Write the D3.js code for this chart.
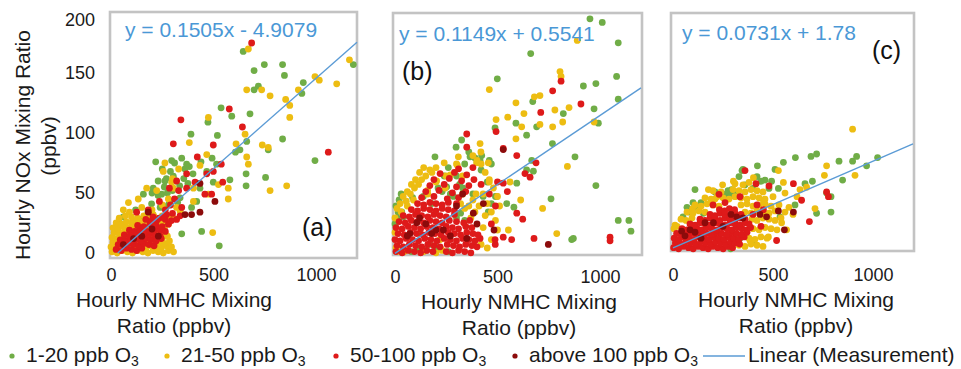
<!DOCTYPE html>
<html>
<head>
<meta charset="utf-8">
<script src="https://cdn.jsdelivr.net/npm/d3@7"></script>
<style>
  html, body { margin: 0; padding: 0; background: #fff; }
  svg { display: block; font-family: "Liberation Sans", Arial, sans-serif; }
</style>
</head>
<body>
<div id="chart"></div>
<script>
// O3 bins (legend order = drawing order)
const seriesNames = ['1-20 ppb O', '21-50 ppb O', '50-100 ppb O', 'above 100 ppb O'];
const seriesColors = ['#70AD47', '#EDBD12', '#DE1A1A', '#8C0B0B'];

const xTicks = [0, 500, 1000];
const yTicks = [0, 50, 100, 150, 200];

const panelTags = ['(a)', '(b)', '(c)'];
const slopes = [0.1505, 0.1149, 0.0731];
const intercepts = [-4.9079, 0.5541, 1.78];
const fitStart = [33, 0, 0];
const equations = ['y = 0.1505x - 4.9079', 'y = 0.1149x + 0.5541', 'y = 0.0731x + 1.78'];

// panel (a)  [NMHC, NOx]
const aGreen = [[645,168],[748,157],[837,157],[846,148],[698,152],[719,139],[698,136],[938,142],[931,133],[1182,157],[537,121],[589,114],[678,116],[473,109],[390,99],[519,98],[837,95],[662,93],[607,84],[629,86],[767,86],[995,77],[218,76],[296,77],[345,79],[382,72],[439,76],[493,79],[515,74],[659,66],[659,56],[754,63],[580,61],[499,59],[434,54],[400,66],[361,70],[304,64],[263,60],[206,54],[158,49],[247,49],[288,43],[337,46],[442,18],[528,6],[345,16],[198,41],[393,38],[418,43],[467,68],[369,74],
  [20,8],[40,25],[60,30],[80,4],[150,28],[180,35],[210,30],[230,48],[260,55],[280,40],[300,52],[315,60],[335,56],[250,70],[270,62],[290,68],[310,75],[230,60],[200,50],[120,36],[355,62],[375,58],[325,42],[275,50],[240,38]];
const aYellow = [[670,170],[1163,161],[1101,141],[1016,144],[995,147],[914,136],[735,136],[662,136],[776,131],[852,128],[872,123],[872,113],[475,113],[382,92],[467,82],[610,91],[654,99],[738,90],[767,88],[662,80],[670,74],[857,56],[776,52],[572,54],[572,45],[496,17],[475,49],[402,54],[255,68],[263,75],[296,59],[85,42],[133,45],[174,54],[223,52],[304,54],[434,73],[524,57],[402,43],[337,35],[109,27],[206,32],
  [5,1],[30,0],[55,2],[80,1],[105,0],[130,2],[155,1],[180,0],[205,2],[230,1],[255,0],[280,2],[305,1],
  [0,5],[20,4],[45,6],[70,5],[95,4],[120,6],[145,5],[170,4],[195,6],[220,5],[245,4],[270,6],[295,5],
  [10,9],[35,8],[60,10],[85,9],[110,8],[135,10],[160,9],[185,8],[210,10],[235,9],[260,8],[285,10],
  [5,13],[25,12],[50,14],[75,13],[100,12],[125,14],[150,13],[175,12],[200,14],[225,13],[250,12],[275,14],
  [15,17],[40,16],[65,18],[90,17],[115,16],[140,18],[165,17],[190,16],[215,18],[240,17],[265,16],
  [10,21],[35,20],[60,22],[85,21],[110,20],[135,22],[160,21],[185,20],[210,22],[235,21],[260,20],
  [25,25],[50,24],[75,26],[100,25],[125,24],[150,26],[175,25],[200,24],[225,26],[250,25],[280,24],
  [40,29],[70,31],[100,30],[130,29],[160,31],[190,30],[220,29],[250,31],[280,30],[305,29],
  [150,38],[200,36],[250,40],[280,45],[320,38],[90,34],[60,36],[330,70],[300,62]];
const aRed = [[686,175],[577,120],[341,111],[304,91],[641,105],[1060,84],[421,80],[499,90],[538,74],[499,68],[467,66],[545,59],[369,66],[410,59],[458,49],[491,49],[369,54],[320,60],[285,54],[236,43],[182,36],[125,34],[337,31],[271,32],[223,27],
  [25,3],[50,2],[75,4],[100,3],[125,2],[150,4],
  [35,7],[60,6],[85,8],[110,7],[135,6],[160,8],[185,7],[210,6],
  [45,11],[70,10],[95,12],[120,11],[145,10],[170,12],[195,11],[220,10],[245,12],
  [65,15],[90,14],[115,16],[140,15],[165,14],[190,16],[215,15],[240,14],
  [90,19],[115,18],[140,20],[165,19],[190,18],[215,20],[240,19],[265,18],
  [130,23],[160,22],[190,24],[220,23],[250,22],[280,24],
  [170,28],[200,27],[235,29],[265,28],[295,27],
  [265,36],[290,40],[300,33],[310,45],[320,28],[330,52],[345,38],[205,30],[255,30]];
const aDarkRed = [[434,58],[507,43],[434,34],[393,32],[361,32],[182,34],[150,14],[231,14],[60,7],[110,12],[200,20]];

// panel (b)
const bGreen = [[951,196],[1011,193],[1089,176],[662,167],[499,146],[919,140],[980,142],[1081,148],[1089,129],[971,121],[992,109],[821,117],[672,127],[590,109],[691,106],[642,99],[488,105],[768,92],[667,78],[878,81],[980,57],[761,46],[195,81],[298,89],[325,95],[423,82],[460,78],[642,70],[675,69],[594,59],[1089,28],[1141,28],[1151,19],[862,12],[86,47],[138,48],[580,39],[545,42],[496,48],[415,78],[366,81],[252,56],[285,48],[33,35],[41,31],[203,6],[122,17],[870,13],
  [0,25],[10,30],[15,35],[5,40],[20,45],[30,50],[80,2],[110,5],[150,3],[170,8],[220,5],[260,2],[300,65],[340,75],[360,85],[390,80],[420,70],[450,60],[470,75],[210,55],[180,42],[240,65],[270,50],[330,55],[380,50],[430,48],[455,35],[470,42],[490,48],[300,30],[320,34],[340,28],[230,52],[315,58],[260,72]];
const bYellow = [[889,178],[460,137],[810,148],[707,132],[680,131],[590,126],[629,117],[550,114],[493,112],[618,106],[707,108],[780,120],[849,122],[769,106],[818,110],[971,110],[590,96],[415,92],[419,85],[455,76],[561,60],[613,45],[720,38],[841,73],[304,74],[249,65],[203,61],[159,53],[309,81],[789,17],[553,20],[460,60],[398,76],[805,152],
  [0,30],[10,38],[25,42],[40,48],[60,52],[80,58],[100,62],[120,68],[140,72],
  [30,35],[55,44],[75,50],[95,55],[115,58],[130,62],[150,65],[170,70],[200,72],[240,76],
  [380,82],[400,78],[420,75],[440,68],[460,62],[480,55],[500,48],[510,40],[430,50],[450,42],[470,35],[490,28],[500,20],[470,12],[450,5],[430,22],[440,32],[420,8],
  [360,40],[380,45],[340,38],[320,42],[395,50],[370,30],[390,35],[410,40],
  [5,5],[20,2],[0,18],[45,2],[140,2],[200,1],[220,12],[230,3],[60,40],[90,45],[330,65],
  [160,50],[245,55],[330,50],[200,60],[270,66],[300,75],[180,68]];
const bRed = [[810,144],[769,136],[907,125],[711,118],[493,102],[350,100],[594,82],[688,76],[659,64],[634,67],[528,88],[528,59],[548,52],[623,29],[594,34],[528,14],[569,12],[678,13],[1049,14],[1049,11],[488,12],[489,8],[350,89],[460,50],[470,25],[490,40],[500,60],
  [5,2],[35,1],[65,3],[95,2],[125,1],[155,3],[185,2],[250,2],[280,1],[310,3],[340,2],[370,1],
  [10,7],[40,6],[70,8],[100,7],[130,6],[160,8],[190,7],[220,6],[255,8],[285,7],[315,6],[345,8],[375,7],[400,6],
  [0,12],[25,11],[55,13],[85,12],[115,11],[145,13],[175,12],[205,11],[240,13],[270,12],[300,11],[330,13],[360,12],[390,11],[415,13],
  [15,17],[45,16],[75,18],[105,17],[135,16],[165,18],[195,17],[225,16],[260,18],[290,17],[320,16],[350,18],[380,17],[405,16],
  [5,22],[35,21],[65,23],[95,22],[125,21],[155,23],[185,22],[215,21],[250,23],[280,22],[310,21],[345,23],[375,22],
  [20,27],[50,26],[80,28],[110,27],[140,26],[170,28],[200,27],[230,26],[265,28],[300,27],[335,26],[365,28],
  [40,32],[70,31],[100,33],[130,32],[160,31],[190,33],[220,32],[250,31],[290,33],
  [80,37],[110,36],[140,38],[170,37],[200,36],[230,38],[260,37],[290,36],
  [110,42],[140,41],[170,43],[200,42],[230,41],[260,43],[300,42],
  [130,47],[190,48],[255,46],[310,47],
  [150,52],[215,53],[280,51],[345,52],
  [170,57],[240,58],[300,56],[360,57],[420,58],
  [190,62],[265,63],[325,61],[385,62],
  [220,67],[290,68],[350,66],
  [310,71],[380,72]];
const bDarkRed = [[528,87],[483,20],[431,42],[382,34],[350,13],[179,17],[236,20],[106,26],[73,17],[748,8],[60,15],[120,30],[150,25],[200,20],[300,40],[400,25],[270,15],[330,50]];

// panel (c)
const cGreen = [[718,81],[690,79],[612,78],[918,79],[898,75],[1023,78],[830,75],[968,71],[848,59],[510,68],[422,71],[552,74],[460,59],[493,58],[660,56],[697,58],[768,48],[790,45],[790,32],[718,31],[610,38],[527,52],[345,67],[293,47],[293,51],[210,49],[110,51],[152,31],[335,10],[288,1],[402,8],[535,28],
  [260,47],[275,50],[290,46],[305,49],[320,47],[280,44],[250,45],[50,28],[80,32],[110,36],[140,40],[70,36],[100,40],[330,62],[360,55],[400,52],[420,62],[440,58],[480,52],[350,68]];
const cYellow = [[898,102],[768,71],[910,63],[757,63],[710,35],[527,67],[402,61],[177,51],[248,55],[302,58],[210,43],[10,21],[98,35],[452,42],[552,57],[635,51],[543,23],[568,17],[477,11],[385,8],[668,53],[268,28],[620,45],[600,30],[560,48],
  [330,4],[360,3],[390,5],[420,4],[450,3],
  [380,10],[410,9],[440,11],[470,10],
  [5,18],[20,20],[400,18],[430,17],[460,19],[490,18],[520,17],
  [40,26],[65,25],[95,27],[395,26],[420,25],[450,27],[480,26],[510,25],[540,27],
  [70,32],[100,31],[130,33],[160,32],[360,32],[390,31],[420,33],[450,32],[480,31],[510,33],[560,32],
  [110,38],[140,37],[170,39],[200,38],[230,37],[340,38],[370,39],[400,37],[430,38],[460,39],[490,37],[530,38],[580,36],
  [160,44],[190,43],[220,45],[250,44],[280,43],[310,45],[340,44],[370,43],[400,45],[430,44],[460,43],[500,45],
  [200,50],[240,49],[300,51],[330,50],[360,49],[390,51],[420,50],[450,49],
  [310,56],[350,55],[380,57]];
const cRed = [[360,67],[415,56],[480,54],[335,45],[230,47],[602,56],[768,49],[777,45],[682,24],[518,8],[643,42],[452,34],[420,38],[400,30],[440,20],[260,40],[200,38],
  [3,2],[28,1],[52,3],[77,2],[101,1],[126,3],[150,2],[176,1],[199,3],[224,2],[251,1],[275,3],[298,2],
  [12,6],[38,5],[63,7],[88,6],[113,5],[139,7],[163,6],[188,5],[212,7],[238,6],[262,5],[287,7],[311,6],[333,5],
  [6,10],[30,9],[55,11],[80,10],[105,9],[130,11],[155,10],[180,9],[205,11],[230,10],[255,9],[280,11],[305,10],[330,9],[356,11],
  [18,14],[43,13],[68,15],[93,14],[118,13],[143,15],[168,14],[193,13],[218,15],[243,14],[268,13],[293,15],[318,14],[343,13],[370,15],
  [45,18],[70,17],[95,19],[120,18],[145,17],[170,19],[195,18],[220,17],[245,19],[270,18],[295,17],[320,19],[345,18],[370,17],[388,19],
  [85,22],[110,21],[135,23],[160,22],[185,21],[210,23],[235,22],[260,21],[285,23],[310,22],[335,21],[360,23],[380,22],
  [135,26],[160,25],[185,27],[210,26],[235,25],[260,27],[285,26],[310,25],[335,27],[360,26],
  [185,30],[210,29],[235,31],[260,30],[285,29],[310,31],[340,30],
  [232,34],[258,33],[282,35],[308,34]];
const cDarkRed = [[602,32],[557,17],[527,33],[435,30],[468,28],[318,28],[202,23],[85,17],[43,16],[160,23],[110,15],[250,20],[290,30],[350,27],[140,10],[60,12]];

const panelSeries = [
  [aGreen, aYellow, aRed, aDarkRed],
  [bGreen, bYellow, bRed, bDarkRed],
  [cGreen, cYellow, cRed, cDarkRed]
];

// pixel layout of each panel
const layout = [
  { x0: 111, x1: 357, y0: 253, y1: 13, frame: [110, 12, 247, 246], eq: [125, 37], tag: [302, 236], title: [174, 307, 333], tickY: 268, yAxis: true },
  { x0: 395, x1: 641, y0: 254, y1: 14, frame: [393, 13, 249, 242], eq: [399, 41], tag: [402, 80], title: [519, 309, 335], tickY: 270, yAxis: false },
  { x0: 673, x1: 913, y0: 250, y1: 13, frame: [671, 13, 243, 238], eq: [682, 40], tag: [872, 59], title: [796, 307, 333], tickY: 268, yAxis: false }
];

const width = 961, height = 369;
const svg = d3.select('#chart').append('svg')
  .attr('width', width)
  .attr('height', height);

layout.forEach((p, i) => {
  const x = d3.scaleLinear().domain([0, 1200]).range([p.x0, p.x1]);
  const y = d3.scaleLinear().domain([0, 200]).range([p.y0, p.y1]);
  const g = svg.append('g');

  // frame
  g.append('rect')
    .attr('x', p.frame[0]).attr('y', p.frame[1])
    .attr('width', p.frame[2]).attr('height', p.frame[3])
    .attr('fill', 'none')
    .attr('stroke', '#C3C3C3')
    .attr('stroke-width', 2.6);

  // points
  panelSeries[i].forEach((pts, s) => {
    g.append('g').selectAll('circle')
      .data(pts)
      .enter().append('circle')
      .attr('cx', d => x(d[0]))
      .attr('cy', d => y(d[1]))
      .attr('r', 3.4)
      .attr('fill', seriesColors[s]);
  });

  // linear fit
  const fit = [fitStart[i], 1200].map(v => [v, slopes[i] * v + intercepts[i]]);
  g.append('path')
    .datum(fit)
    .attr('fill', 'none')
    .attr('stroke', '#5B9BD5')
    .attr('stroke-width', 1.4)
    .attr('d', d3.line().x(d => x(d[0])).y(d => y(d[1])));

  g.append('text')
    .attr('x', p.eq[0]).attr('y', p.eq[1])
    .attr('fill', '#4A98D6')
    .style('font-size', '21px')
    .text(equations[i]);

  g.append('text')
    .attr('x', p.tag[0]).attr('y', p.tag[1])
    .attr('fill', '#111')
    .style('font-size', '25px')
    .text(panelTags[i]);

  // x axis
  const xa = g.append('g')
    .attr('transform', `translate(0,${p.tickY})`)
    .call(d3.axisBottom(x).tickValues(xTicks).tickFormat(d3.format('d')).tickSize(0).tickPadding(0));
  xa.select('.domain').remove();
  xa.selectAll('text')
    .attr('fill', '#1a1a1a')
    .style('font-size', '18px')
    .style('font-family', '"Liberation Sans", Arial, sans-serif');

  g.append('text')
    .attr('x', p.title[0]).attr('y', p.title[1])
    .attr('text-anchor', 'middle')
    .attr('fill', '#1a1a1a')
    .style('font-size', '21px')
    .text('Hourly NMHC Mixing');
  g.append('text')
    .attr('x', p.title[0]).attr('y', p.title[2])
    .attr('text-anchor', 'middle')
    .attr('fill', '#1a1a1a')
    .style('font-size', '21px')
    .text('Ratio (ppbv)');

  if (p.yAxis) {
    const ya = g.append('g')
      .attr('transform', `translate(${p.x0},0)`)
      .call(d3.axisLeft(y).tickValues(yTicks).tickSize(0).tickPadding(16));
    ya.select('.domain').remove();
    ya.selectAll('text')
      .attr('fill', '#1a1a1a')
      .style('font-size', '18px')
      .style('font-family', '"Liberation Sans", Arial, sans-serif');
    ya.selectAll('text').filter(d => d === 200).attr('dy', '0.7em');

    svg.append('text')
      .attr('transform', 'translate(30,145) rotate(-90)')
      .attr('text-anchor', 'middle')
      .attr('fill', '#1a1a1a')
      .style('font-size', '21px')
      .text('Hourly NOx Mixing Ratio');
    svg.append('text')
      .attr('transform', 'translate(56,146) rotate(-90)')
      .attr('text-anchor', 'middle')
      .attr('fill', '#1a1a1a')
      .style('font-size', '21px')
      .text('(ppbv)');
  }
});

// legend
const legendX = [12, 167, 336, 515];
const legend = svg.append('g');
seriesNames.forEach((name, s) => {
  legend.append('circle')
    .attr('cx', legendX[s]).attr('cy', 356)
    .attr('r', 2.6)
    .attr('fill', seriesColors[s]);
  const t = legend.append('text')
    .attr('x', legendX[s] + 14).attr('y', 362)
    .attr('fill', '#1a1a1a')
    .style('font-size', '21px')
    .text(name);
  t.append('tspan')
    .attr('dy', 4)
    .style('font-size', '14px')
    .text('3');
});
legend.append('line')
  .attr('x1', 703).attr('x2', 745)
  .attr('y1', 356).attr('y2', 356)
  .attr('stroke', '#5B9BD5')
  .attr('stroke-width', 1.4);
legend.append('text')
  .attr('x', 748).attr('y', 362)
  .attr('fill', '#1a1a1a')
  .style('font-size', '21px')
  .text('Linear (Measurement)');
</script>
</body>
</html>
